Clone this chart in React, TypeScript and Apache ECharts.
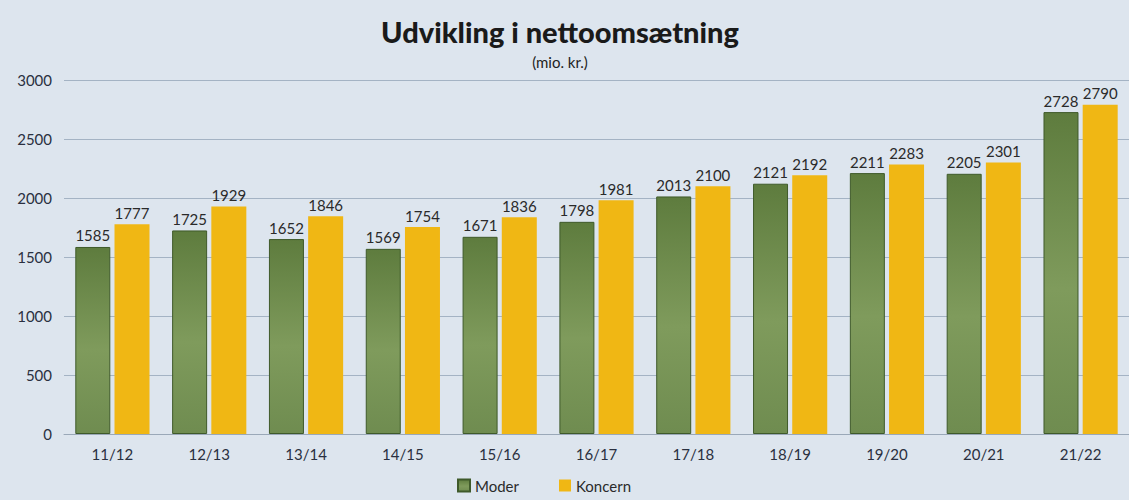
import React, { useEffect, useRef } from "react";
import * as echarts from "echarts";

const categories = ["11/12", "12/13", "13/14", "14/15", "15/16", "16/17", "17/18", "18/19", "19/20", "20/21", "21/22"];
const moder = [1585, 1725, 1652, 1569, 1671, 1798, 2013, 2121, 2211, 2205, 2728];
const koncern = [1777, 1929, 1846, 1754, 1836, 1981, 2100, 2192, 2283, 2301, 2790];
const yTicks = { min: 0, max: 3000, interval: 500 };

export default function App() {
  const ref = useRef<HTMLDivElement>(null);
  useEffect(() => {
    document.body.style.margin = "0";
    const chart = echarts.init(ref.current!, null, { renderer: "svg" });
    const font = "Lato, 'Open Sans', sans-serif";
    chart.setOption({
      animation: false,
      backgroundColor: "#dde5ee",
      textStyle: { fontFamily: font },
      title: {
        text: "Udvikling i nettoomsætning",
        subtext: "(mio. kr.)",
        left: 555,
        textAlign: "center",
        top: 12,
        itemGap: 8,
        textStyle: { fontSize: 29, fontWeight: 900, color: "#1a1a1a", fontFamily: font },
        subtextStyle: { fontSize: 15, color: "#222", fontFamily: font },
      },
      legend: {
        bottom: 2,
        left: 452,
        itemWidth: 12,
        itemHeight: 12,
        itemGap: 40,
        icon: "rect",
        textStyle: { fontSize: 15, color: "#2a2a2a", fontFamily: font },
        data: ["Moder", "Koncern"],
      },
      grid: { left: 64, top: 80, width: 1075, bottom: 66 },
      xAxis: {
        type: "category",
        data: categories,
        axisTick: { show: false },
        axisLine: { lineStyle: { color: "#9aa8b8" } },
        axisLabel: { fontSize: 15, color: "#2a3040", margin: 12, fontFamily: font },
      },
      yAxis: {
        type: "value",
        min: yTicks.min,
        max: yTicks.max,
        interval: yTicks.interval,
        axisLabel: { fontSize: 15, color: "#2a3040", margin: 12, fontFamily: font, formatter: (v: number) => String(v) },
        splitLine: { lineStyle: { color: "#a4b3c4", width: 1 } },
      },
      series: [
        {
          name: "Moder",
          type: "bar",
          data: moder,
          barWidth: 35,
          barGap: "12%",
          itemStyle: {
            color: new echarts.graphic.LinearGradient(0, 0, 0, 1, [
              { offset: 0, color: "#5e7c3e" },
              { offset: 0.55, color: "#7f9b5c" },
              { offset: 1, color: "#6f8c50" },
            ]),
            borderColor: "#3f5a2a",
            borderWidth: 1,
          },
          label: { show: true, position: "top", distance: 4, fontSize: 15, color: "#2a2a2a", fontFamily: font },
        },
        {
          name: "Koncern",
          type: "bar",
          data: koncern,
          barWidth: 35,
          itemStyle: { color: "#f0b714" },
          label: { show: true, position: "top", distance: 4, fontSize: 15, color: "#2a2a2a", fontFamily: font },
        },
      ],
    });
    return () => chart.dispose();
  }, []);
  return <div ref={ref} style={{ width: 1129, height: 500 }} />;
}
